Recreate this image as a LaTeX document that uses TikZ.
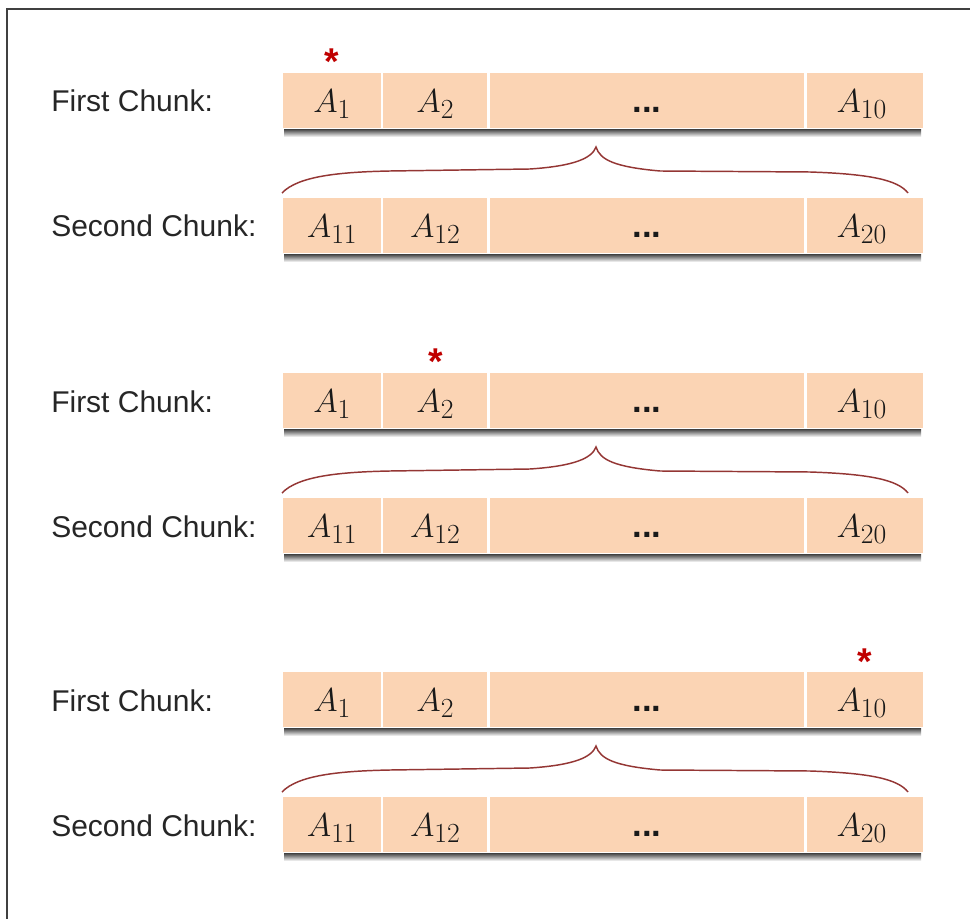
\documentclass[tikz,border=0pt]{standalone}
\usepackage{fontspec}
\setmainfont{Liberation Sans}
\usetikzlibrary{calc}
\definecolor{peach}{HTML}{FBD4B4}
\definecolor{bracered}{HTML}{943634}
\definecolor{starred}{HTML}{C00000}

% One bar of four cells with its label and drop shadow.
% #1 name prefix, #2 top edge, #3 label, #4 #5 #6 cell entries
\newcommand\chunkbar[6]{%
  \shade[top color=black!75, bottom color=white] (284,{#2+57}) rectangle (921,{#2+65});
  \node[cell, minimum width=74.25pt] (#1-1) at (282,{#2}) {};
  \node[cell, minimum width=78.75pt] (#1-2) at (#1-1.north east) {};
  \node[cell, minimum width=237pt]   (#1-3) at (#1-2.north east) {};
  \node[cell, minimum width=87.75pt] (#1-4) at (#1-3.north east) {};
  \node[entry] (#1-t1) at ($(#1-1.south)+(0,-17)$) {$#4$};
  \node[entry] (#1-t2) at ($(#1-2.south)+(0,-17)$) {$#5$};
  \node[entry, font=\fontsize{26}{28}\selectfont\bfseries] (#1-t3) at ($(#1-3.south)+(0,-17)$) {...};
  \node[entry] (#1-t4) at ($(#1-4.south)+(-3,-17)$) {$#6$};
  \node[chunklabel] (#1-lab) at (51,{#2+40}) {#3};
}

\begin{document}
\begin{tikzpicture}[x=0.75pt,y=-0.75pt,
  cell/.style={fill=peach, draw=white, line width=0.9pt, inner sep=0pt,
    minimum height=42pt, anchor=north west},
  entry/.style={inner sep=0pt, anchor=base, text=black!90,
    font=\fontsize{24.88}{28}\selectfont},
  chunklabel/.style={inner sep=0pt, anchor=base west, text=black!85,
    font=\fontsize{22.5}{26}\selectfont},
  starmark/.style={inner sep=0pt, anchor=base, text=starred,
    font=\fontsize{28}{30}\selectfont\bfseries},
  brace/.style={draw=bracered, line width=1.1pt},
]
\useasboundingbox (0,0) rectangle (970,919);
\fill[white] (0,0) rectangle (970,919);

% frame along the top and left edges
\draw[draw=black!75, line width=1.5pt] (970,9) -- (7,9) -- (7,919);

\foreach \g/\dy/\sc in {a/0/1, b/300/2, c/599/4} {
  \chunkbar{\g f}{72+\dy}{First Chunk:}{A_1}{A_2}{A_{10}}
  \chunkbar{\g s}{197+\dy}{Second Chunk:}{A_{11}}{A_{12}}{A_{20}}
  % current element marker
  \node[starmark] (\g star) at ($(\g f-\sc.north)+(0,3)$) {*};
  % brace joining the two chunks
  \draw[brace] (282,{193+\dy}) .. controls (298,{176+\dy}) and (340,{172+\dy}) .. (390,{171+\dy})
    -- (530,{169+\dy}) .. controls (575,{166+\dy}) and (592,{158+\dy}) .. (596,{147+\dy})
    .. controls (600,{160+\dy}) and (615,{167+\dy}) .. (660,{171+\dy})
    -- (810,{172+\dy}) .. controls (870,{174+\dy}) and (898,{180+\dy}) .. (908,{193+\dy});
}
\end{tikzpicture}
\end{document}
